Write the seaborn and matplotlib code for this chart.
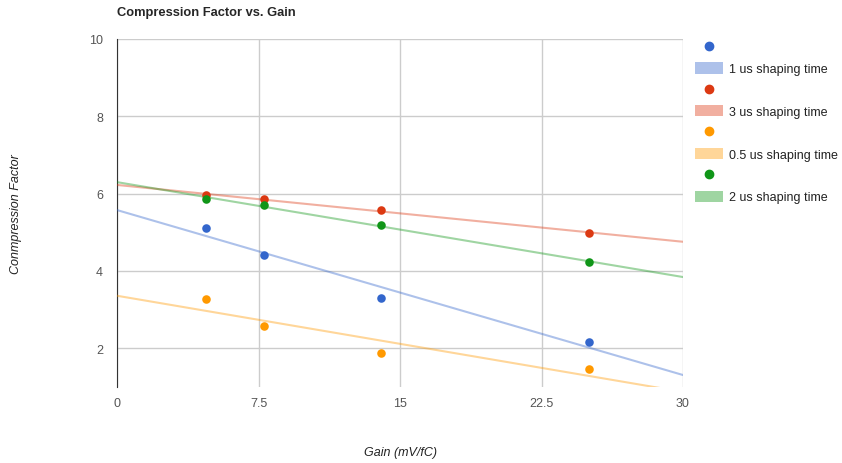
import numpy as np
import pandas as pd
import matplotlib
matplotlib.use('Agg')
import matplotlib.pyplot as plt
import seaborn as sns
from matplotlib.lines import Line2D
from matplotlib.patches import Patch

# 이득 값 (mV/fC)
gain = [4.7, 7.8, 14.0, 25.0]

# shaping time 별 압축 계수
cf_1us = [5.11, 4.41, 3.30, 2.16]
cf_3us = [5.96, 5.86, 5.58, 4.98]
cf_05us = [3.27, 2.57, 1.87, 1.46]
cf_2us = [5.86, 5.70, 5.19, 4.23]

labels = ['1 us shaping time', '3 us shaping time', '0.5 us shaping time', '2 us shaping time']
colors = ['#3366cc', '#dc3912', '#ff9900', '#109618']
series = [cf_1us, cf_3us, cf_05us, cf_2us]

sns.set_style('white')
plt.rcParams['font.family'] = ['Liberation Sans', 'DejaVu Sans']

fig = plt.figure(figsize=(8.42, 4.64), dpi=100)
ax = fig.add_axes([117/842, 1-388/464, (683-117)/842, (388-40)/464])
ax.set_xlim(0, 30)
ax.set_ylim(1, 10)

for y, c in zip(series, colors):
    df = pd.DataFrame({'gain': gain, 'cf': y})
    sns.regplot(data=df, x='gain', y='cf', ax=ax, ci=None, truncate=False,
                scatter_kws={'s': 38, 'color': c, 'alpha': 1, 'zorder': 4, 'linewidths': 0},
                line_kws={'color': c, 'alpha': 0.4, 'lw': 1.5, 'zorder': 3})

ax.set_xlim(0, 30)
ax.set_ylim(1, 10)
ax.set_xticks([0, 7.5, 15, 22.5, 30])
ax.set_xticklabels(['0', '7.5', '15', '22.5', '30'])
ax.set_yticks([2, 4, 6, 8, 10])
ax.grid(True, color='#cccccc', lw=1)
ax.set_axisbelow(True)
for s in ['top', 'right', 'bottom']:
    ax.spines[s].set_visible(False)
ax.spines['left'].set_color('#333333')
ax.tick_params(length=0, labelsize=9, colors='#555555')
ax.tick_params(axis='x', pad=7)
ax.tick_params(axis='y', pad=10)
ax.set_xlabel('')
ax.set_ylabel('')

fig.text(400/842, 1-453/464, 'Gain (mV/fC)', fontstyle='italic', fontsize=9,
         color='#222222', ha='center', va='center')
fig.text(16/842, 1-214/464, 'Conmpression Factor', fontstyle='italic', fontsize=9,
         color='#222222', ha='center', va='center', rotation=90)
fig.text(117/842, 1-13/464, 'Compression Factor vs. Gain', fontsize=9.3, fontweight='bold',
         va='center', ha='left')

handles = []
names = []
for lab, c in zip(labels, colors):
    handles.append(Line2D([], [], marker='o', ls='', color=c, markersize=6))
    names.append('')
    handles.append(Patch(facecolor=c, alpha=0.4, edgecolor='none'))
    names.append(lab)
fig.legend(handles, names, loc='upper left', bbox_to_anchor=(690/842, 1-37/464),
           frameon=False, fontsize=9, handlelength=2.2, handleheight=1.0,
           labelspacing=0.68, handletextpad=0.5, borderaxespad=0,
           labelcolor='#222222')

fig.savefig('out.png', dpi=100)
